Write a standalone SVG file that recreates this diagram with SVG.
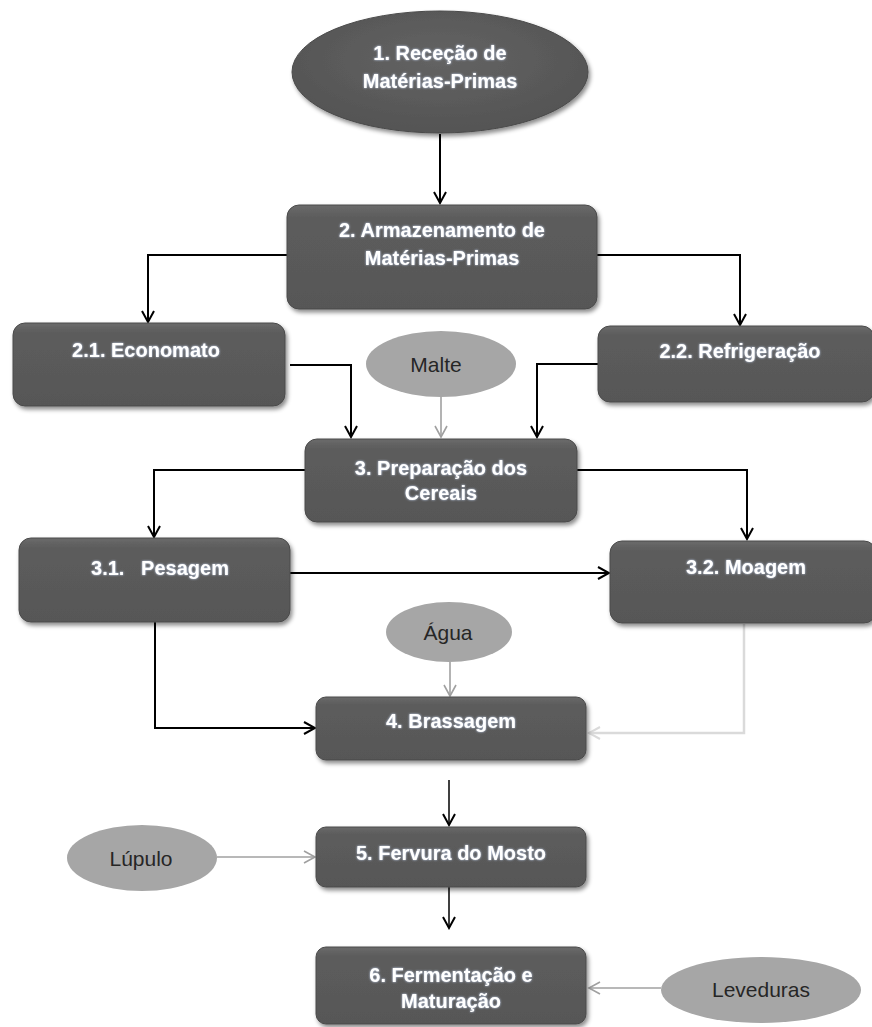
<svg xmlns="http://www.w3.org/2000/svg" width="872" height="1027" viewBox="0 0 872 1027">
<defs>
<style>
.box{fill:url(#gBox);stroke:#4a4a4a;stroke-width:1;filter:url(#sh)}
.t{font-family:"Liberation Sans",Arial,sans-serif;font-weight:bold;font-size:20px;fill:#ffffff;text-anchor:middle;filter:url(#glow)}
.small{fill:#a6a6a6}
.ts{font-family:"Liberation Sans",Arial,sans-serif;font-size:21px;fill:#262626;text-anchor:middle}
.c{fill:none;stroke:#000;stroke-width:2}
.cg{fill:none;stroke:#a0a0a0;stroke-width:1.6}
.cl{fill:none;stroke:#dadada;stroke-width:2.5}
</style>
<linearGradient id="gBox" x1="0" y1="0" x2="0" y2="1">
<stop offset="0" stop-color="#6b6b6b"/>
<stop offset="0.12" stop-color="#5c5c5c"/>
<stop offset="1" stop-color="#575757"/>
</linearGradient>
<radialGradient id="gEll" cx="0.5" cy="0.4" r="0.6">
<stop offset="0" stop-color="#636363"/>
<stop offset="1" stop-color="#545454"/>
</radialGradient>
<filter id="sh" x="-10%" y="-10%" width="125%" height="140%">
<feDropShadow dx="2" dy="3" stdDeviation="2" flood-color="#000" flood-opacity="0.45"/>
</filter>
<filter id="glow" x="-10%" y="-30%" width="120%" height="160%">
<feDropShadow dx="0" dy="0" stdDeviation="0.8" flood-color="#cfe0ff" flood-opacity="0.9"/>
</filter>
<marker id="ab" viewBox="0 0 14 14" markerWidth="14" markerHeight="14" refX="12" refY="7" orient="auto" markerUnits="userSpaceOnUse">
<path d="M1,1 L12,7 L1,13" fill="none" stroke="#000" stroke-width="2"/>
</marker>
<marker id="ag" viewBox="0 0 14 14" markerWidth="14" markerHeight="14" refX="12" refY="7" orient="auto" markerUnits="userSpaceOnUse">
<path d="M1,1 L12,7 L1,13" fill="none" stroke="#a0a0a0" stroke-width="1.6"/>
</marker>
<marker id="al" viewBox="0 0 14 14" markerWidth="14" markerHeight="14" refX="12" refY="7" orient="auto" markerUnits="userSpaceOnUse">
<path d="M1,1 L12,7 L1,13" fill="none" stroke="#dadada" stroke-width="2"/>
</marker>
</defs>
<rect width="872" height="1027" fill="#ffffff"/>

<g id="connectors">
<path class="c" d="M440,134 V203" marker-end="url(#ab)"/>
<path class="c" d="M287,255 H148 V322" marker-end="url(#ab)"/>
<path class="c" d="M597,255 H740 V325" marker-end="url(#ab)"/>
<path class="c" d="M290,365 H351 V437" marker-end="url(#ab)"/>
<path class="c" d="M598,364 H537 V437" marker-end="url(#ab)"/>
<path class="cg" d="M441,397 V437" marker-end="url(#ag)"/>
<path class="c" d="M305,470 H154 V537" marker-end="url(#ab)"/>
<path class="c" d="M577,470 H747 V539" marker-end="url(#ab)"/>
<path class="c" d="M290,573 H609" marker-end="url(#ab)"/>
<path class="cg" d="M450,662 V696" marker-end="url(#ag)"/>
<path class="c" d="M155,622 V728 H315" marker-end="url(#ab)"/>
<path class="cl" d="M744,624 V733 H589" marker-end="url(#al)"/>
<path class="c" style="stroke-width:1.5" d="M449,780 V825" marker-end="url(#ab)"/>
<path class="cg" d="M217,857 H315" marker-end="url(#ag)"/>
<path class="c" style="stroke-width:1.5" d="M449,887 V928" marker-end="url(#ab)"/>
<path class="cg" d="M661,988 H589" marker-end="url(#ag)"/>
</g>

<g id="n1">
<ellipse cx="440" cy="72" rx="148" ry="61" fill="url(#gEll)" stroke="#4a4a4a" filter="url(#sh)"/>
<text class="t" x="440" y="60">1. Receção de</text>
<text class="t" x="440" y="88">Matérias-Primas</text>
</g>
<g id="n2">
<rect class="box" x="287" y="205" width="310" height="104" rx="12"/>
<text class="t" x="442" y="237">2. Armazenamento de</text>
<text class="t" x="442" y="265">Matérias-Primas</text>
</g>
<g id="n21">
<rect class="box" x="13" y="323" width="272" height="83" rx="12"/>
<text class="t" x="146" y="357">2.1. Economato</text>
</g>
<g id="n22">
<rect class="box" x="598" y="326" width="276" height="76" rx="12"/>
<text class="t" x="740" y="358">2.2. Refrigeração</text>
</g>
<g id="malte">
<ellipse class="small" cx="441" cy="364" rx="75" ry="33"/>
<text class="ts" x="436" y="372">Malte</text>
</g>
<g id="n3">
<rect class="box" x="305" y="439" width="272" height="83" rx="12"/>
<text class="t" x="441" y="475">3. Preparação dos</text>
<text class="t" x="441" y="500">Cereais</text>
</g>
<g id="n31">
<rect class="box" x="19" y="538" width="271" height="84" rx="12"/>
<text class="t" x="160" y="575" xml:space="preserve">3.1.   Pesagem</text>
</g>
<g id="n32">
<rect class="box" x="610" y="541" width="266" height="82" rx="12"/>
<text class="t" x="746" y="574">3.2. Moagem</text>
</g>
<g id="agua">
<ellipse class="small" cx="449" cy="632" rx="63" ry="30"/>
<text class="ts" x="448" y="640">Água</text>
</g>
<g id="n4">
<rect class="box" x="316" y="697" width="270" height="63" rx="10"/>
<text class="t" x="451" y="728">4. Brassagem</text>
</g>
<g id="lupulo">
<ellipse class="small" cx="142" cy="858" rx="75" ry="33"/>
<text class="ts" x="141" y="866">Lúpulo</text>
</g>
<g id="n5">
<rect class="box" x="316" y="827" width="270" height="60" rx="10"/>
<text class="t" x="451" y="860">5. Fervura do Mosto</text>
</g>
<g id="n6">
<rect class="box" x="316" y="947" width="270" height="77" rx="10"/>
<text class="t" x="451" y="982">6. Fermentação e</text>
<text class="t" x="451" y="1008">Maturação</text>
</g>
<g id="leveduras">
<ellipse class="small" cx="761" cy="990" rx="100" ry="33"/>
<text class="ts" x="761" y="997">Leveduras</text>
</g>
</svg>
